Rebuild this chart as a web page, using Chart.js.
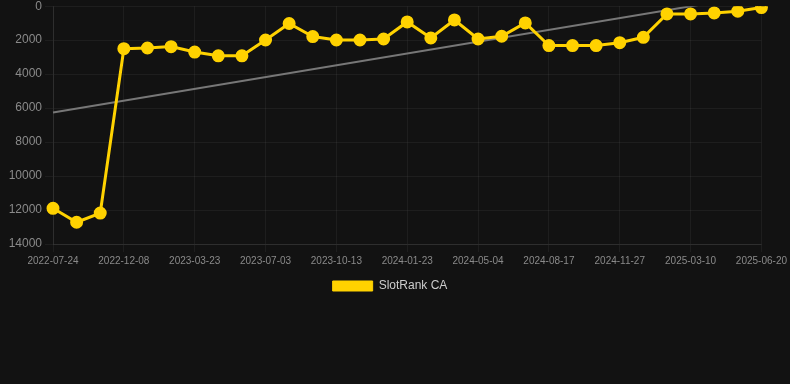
<!DOCTYPE html>
<html>
<head>
<meta charset="utf-8">
<script src="https://cdn.jsdelivr.net/npm/chart.js@4"></script>
<style>
    html, body { margin: 0; padding: 0; background: #121212; overflow: hidden; }
    #wrap { position: relative; width: 790px; height: 306px; margin-top: -4px; }
</style>
</head>
<body>
<div id="wrap"><canvas id="rankChart"></canvas></div>
<script>
// Data for the chart
const labels = ['2022-07-24', '2022-09-08', '2022-10-24', '2022-12-08', '2023-01-15', '2023-02-17',
    '2023-03-23', '2023-04-27', '2023-05-30', '2023-07-03', '2023-08-06', '2023-09-09',
    '2023-10-13', '2023-11-15', '2023-12-20', '2024-01-23', '2024-02-26', '2024-03-31',
    '2024-05-04', '2024-06-07', '2024-07-12', '2024-08-17', '2024-09-20', '2024-10-24',
    '2024-11-27', '2024-12-31', '2025-02-04', '2025-03-10', '2025-04-13', '2025-05-17', '2025-06-20'];

const rankData = [11900, 12720, 12180, 2500, 2460, 2380, 2700, 2920, 2920, 1990, 1020, 1790,
    1990, 1990, 1930, 925, 1870, 810, 1930, 1770, 985, 2320, 2320, 2320,
    2150, 1830, 455, 455, 395, 295, 80];

// trend line: only the two end values, the rest is spanned
const trendData = [6260, null, null, null, null, null, null, null, null, null, null, null,
    null, null, null, null, null, null, null, null, null, null, null, null,
    null, null, null, null, null, null, -690];

const font = 'Liberation Sans, Arial, sans-serif';

// nudge the legend a little to the left
const legendShift = {
    id: 'legendShift',
    afterLayout: function (chart) {
        chart.legend.left -= 5;
        chart.legend.right -= 5;
    }
};

const ctx = document.getElementById('rankChart').getContext('2d');
const rankChart = new Chart(ctx, {
    type: 'line',
    data: {
        labels: labels,
        datasets: [
            {
                label: 'SlotRank CA',
                data: rankData,
                borderColor: '#ffd200',
                backgroundColor: '#ffd200',
                borderWidth: 3,
                pointRadius: 5,
                pointHoverRadius: 6,
                tension: 0,
                fill: false,
            },
            {
                label: 'trend',
                data: trendData,
                borderColor: '#777777',
                borderWidth: 2,
                pointRadius: 0,
                spanGaps: true,
                fill: false,
            }
        ]
    },
    options: {
        responsive: true,
        maintainAspectRatio: false,
        animation: false,
        plugins: {
            legend: {
                position: 'bottom',
                labels: {
                    color: '#cccccc',
                    font: { family: font, size: 12 },
                    boxWidth: 40,
                    boxHeight: 10,
                    generateLabels: function (chart) {
                        const items = Chart.defaults.plugins.legend.labels.generateLabels(chart);
                        items.forEach(function (it) { it.lineWidth = 1; });
                        return items.filter(function (it) { return it.text !== 'trend'; });
                    }
                }
            },
            tooltip: { enabled: false }
        },
        scales: {
            x: {
                grid: { color: 'rgba(255,255,255,0.05)' },
                border: { color: 'rgba(255,255,255,0.08)' },
                ticks: {
                    color: '#8a8a8a',
                    maxRotation: 0,
                    autoSkip: true,
                    font: { family: font, size: 10 }
                }
            },
            y: {
                reverse: true,
                min: 0,
                max: 14000,
                afterFit: function (scale) { scale.width = 53; },
                grid: { color: 'rgba(255,255,255,0.05)' },
                border: { color: 'rgba(255,255,255,0.08)' },
                ticks: {
                    stepSize: 2000,
                    color: '#8a8a8a',
                    font: { family: font, size: 12 },
                    callback: function (v) { return String(v); }
                }
            }
        }
    },
    plugins: [legendShift]
});
</script>
</body>
</html>
